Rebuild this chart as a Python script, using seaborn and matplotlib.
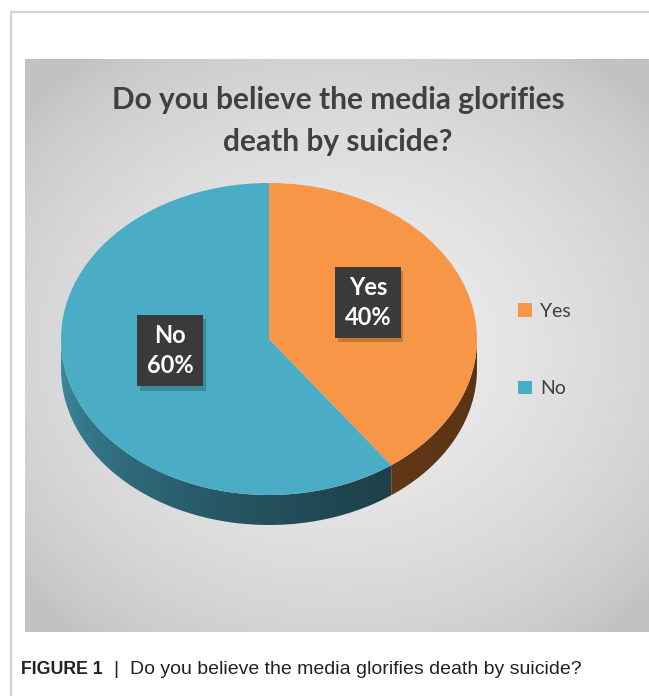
import numpy as np
import matplotlib
matplotlib.use('Agg')
import matplotlib.pyplot as plt
import seaborn as sns
from matplotlib.colors import to_rgb
from matplotlib.patches import Polygon
import matplotlib.patheffects as pe

# ---- data ----
categories = ['Yes', 'No']
values = [40, 60]
pct_labels = ['40%', '60%']
title = 'Do you believe the media glorifies\ndeath by suicide?'
caption_bold = 'FIGURE 1'
caption_text = 'Do you believe the media glorifies death by suicide?'

top_colors = ['#F79646', '#4BACC6']
side_colors = [('#8f5829', '#5b3416'), ('#3f8ca2', '#19373f')]

sns.set_theme(style='white')
plt.rcParams['font.family'] = ['Lato', 'DejaVu Sans']

W, H = 649, 696
fig = plt.figure(figsize=(W / 100, H / 100), dpi=100)
fig.patch.set_facecolor('white')
bg = fig.add_axes([0, 0, 1, 1])
bg.axis('off')

# panel gradient
px0, px1, py0, py1 = 25, W, 59, 632
xx, yy = np.meshgrid(np.linspace(px0, px1, 400), np.linspace(py0, py1, 400))
r = np.sqrt(((xx - 340) / 420) ** 2 + ((yy - 350) / 360) ** 2)
val = np.clip(1 - r, 0, 1) ** 0.7
light = np.array(to_rgb('#f4f4f4'))
dark = np.array(to_rgb('#c2c2c2'))
img = dark + (light - dark) * val[..., None]
bg.imshow(img, extent=[px0, px1, py1, py0], zorder=0, aspect='auto', interpolation='bilinear')

# outer frame
bg.plot([11, 11], [12, H], color='#d3d3d3', lw=1.6, zorder=1)
bg.plot([11, W], [12, 12], color='#d3d3d3', lw=1.6, zorder=1)
bg.set_xlim(0, W)
bg.set_ylim(H, 0)

# title
bg.text(338, 121, title, ha='center', va='center', fontsize=21.5, fontweight='bold',
        color='#404040', linespacing=1.65, zorder=3)

# caption
cap_family = 'Liberation Sans'
t1 = bg.text(21, 669, caption_bold, ha='left', va='center', fontsize=12.8,
             fontweight='bold', family=cap_family, color='#222222')
fig.canvas.draw()
ren = fig.canvas.get_renderer()
bb = t1.get_window_extent(ren)
t2 = bg.text(bb.x1 + 11, 669, '|', ha='left', va='center', fontsize=14,
             family=cap_family, color='#222222')
bb2 = t2.get_window_extent(ren)
bg.text(bb2.x1 + 11, 669, caption_text, ha='left', va='center', fontsize=14,
        family=cap_family, color='#222222')

# pie axes (ellipse by non-equal aspect)
cx, cy, rx, ry = 269, 339, 208, 156
depth = 30
xr = (-1.2, 1.2)
yr = (-1.5, 1.2)
ax = fig.add_axes([(cx + xr[0] * rx) / W, (H - (cy - yr[0] * ry)) / H,
                   (xr[1] - xr[0]) * rx / W, (yr[1] - yr[0]) * ry / H])
ax.patch.set_alpha(0)

wedges, _ = ax.pie(values, colors=top_colors, startangle=90, counterclock=False,
                   radius=1, center=(0, 0), wedgeprops=dict(linewidth=0))

# side of the pie: one polygon per wedge filled with a horizontal gradient
d = depth / ry
total = float(sum(values))
start = 90.0
cum = 0.0
gx = np.linspace(-1, 1, 400)
for v, (cl, cr) in zip(values, side_colors):
    t_hi = start - cum / total * 360
    t_lo = start - (cum + v) / total * 360
    cum += v
    ts = np.radians(np.linspace(t_lo, t_hi, 600))
    ts = ts[np.sin(ts) <= 1e-9]
    if len(ts) < 2:
        continue
    top = np.column_stack([np.cos(ts), np.sin(ts)])
    bot = np.column_stack([np.cos(ts[::-1]), np.sin(ts[::-1]) - d])
    poly = Polygon(np.vstack([top, bot]), closed=True, fc='none', ec='none')
    ax.add_patch(poly)
    cl = np.array(to_rgb(cl)); cr = np.array(to_rgb(cr))
    tt = np.sqrt((gx + 1) / 2)
    grad = (cl + (cr - cl) * tt[:, None])[None, :, :]
    im = ax.imshow(grad, extent=[-1, 1, -1 - d - 0.02, 0.02], aspect='auto',
                   interpolation='bilinear', zorder=0.5)
    im.set_clip_path(poly)

ax.set_aspect('auto')
ax.set_xlim(xr)
ax.set_ylim(yr)
ax.axis('off')

# labels
cum = 0.0
for cat, pct, v in zip(categories, pct_labels, values):
    mid = np.radians(start - (cum + v / 2) / total * 360)
    cum += v
    x, y = 0.5 * np.cos(mid), 0.5 * np.sin(mid) + 0.08
    t = ax.text(x, y, f'{cat}\n{pct}', ha='center', va='center', fontsize=17,
                fontweight='bold', color='white', linespacing=1.35, zorder=5,
                bbox=dict(boxstyle='square,pad=0.4', fc='#3a3a3a', ec='none'))
    t.get_bbox_patch().set_path_effects(
        [pe.SimplePatchShadow(offset=(2, -3), shadow_rgbFace='#000000', alpha=0.2), pe.Normal()])

# legend
leg = fig.legend(wedges, categories, loc='upper left',
                 bbox_to_anchor=(518 / W, 1 - 303 / H), frameon=False,
                 fontsize=14, labelspacing=3.1, handlelength=0.7, handleheight=0.7,
                 handletextpad=0.45, borderpad=0, borderaxespad=0)
for t in leg.get_texts():
    t.set_color('#404040')

fig.savefig('out.png', dpi=100)
